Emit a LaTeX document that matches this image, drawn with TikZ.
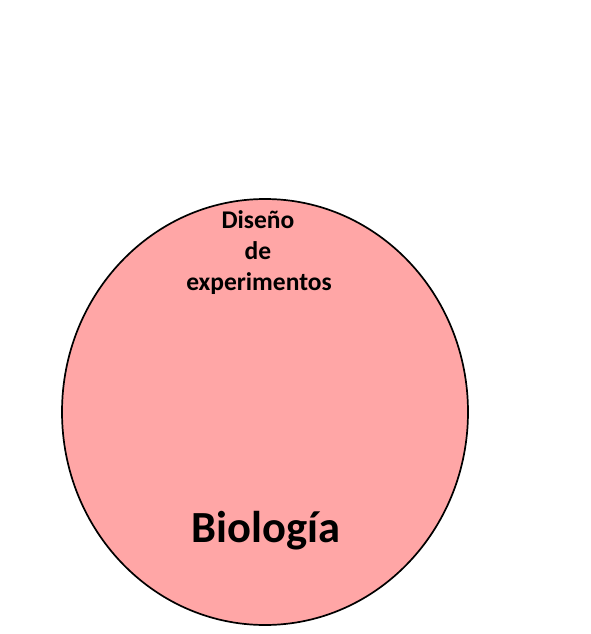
\documentclass[tikz,border=0pt]{standalone}
\usepackage{fontspec}
\setmainfont{Carlito}
\usetikzlibrary{shapes.geometric}
\begin{document}
\begin{tikzpicture}[x=1pt, y=-1pt,
  lbl/.style={font=\bfseries\fontsize{25.5}{31}\selectfont, inner sep=0pt, anchor=base}]
\useasboundingbox (0,0) rectangle (591,634);
\fill[white] (0,0) rectangle (591,634);
\coordinate (c) at (265,412);
\node[draw, line width=1.7pt, fill={rgb,255:red,255;green,166;blue,166},
  ellipse, minimum width=406pt, minimum height=426pt, inner sep=0pt] (bio) at (c) {};
\node[lbl] (dis) at (258,228) {Diseño};
\node[lbl] (de) at (258,259) {de};
\node[lbl] (exp) at (259,290) {experimentos};
\node[font=\bfseries\fontsize{44.5}{48}\selectfont, inner sep=0pt, anchor=base] (biol) at (266,542) {Biología};
\end{tikzpicture}
\end{document}
